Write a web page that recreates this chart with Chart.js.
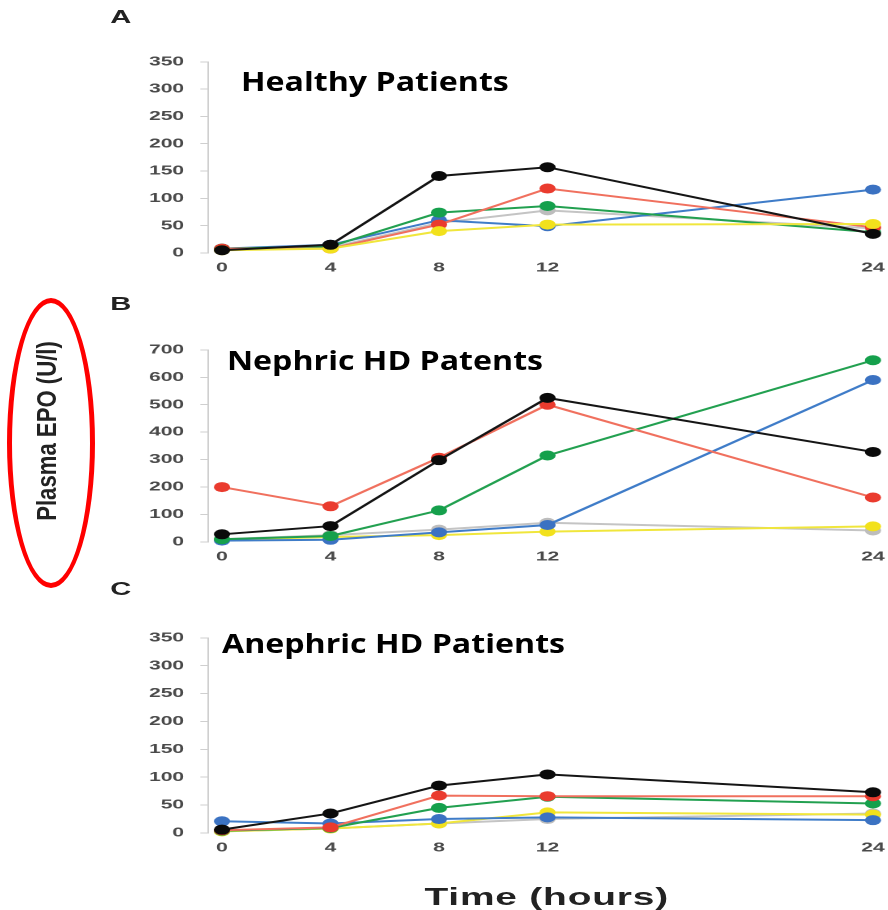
<!DOCTYPE html>
<html>
<head>
<meta charset="utf-8">
<script src="https://cdn.jsdelivr.net/npm/chart.js@4.4.1/dist/chart.umd.min.js"></script>
<style>
  html, body { margin: 0; padding: 0; background: #fff; }
  body { width: 888px; height: 910px; position: relative; overflow: hidden; }
  /* the original figure was stretched sideways, so the whole plot block is too */
  #stretch { position: absolute; left: 0; top: 0; width: 549px; height: 910px; transform: scaleX(1.62); transform-origin: 0 0; }
  #stretch canvas { position: absolute; left: 0; }
  .letter { position: absolute; left: 68px; font: bold 18px "Liberation Sans", Arial, sans-serif; line-height: 1; color: #222; }
  .title { position: absolute; font: bold 27px "Open Sans", sans-serif; line-height: 1; color: #000; white-space: nowrap; transform: scaleX(1.19); transform-origin: 0 0; }
  #xlabel { position: absolute; left: 262px; top: 885px; font: bold 24px "Liberation Sans", Arial, sans-serif; letter-spacing: 0.5px; line-height: 1; color: #222; white-space: nowrap; }
  #ylabel { position: absolute; left: 47px; top: 431px; transform: translate(-50%, -50%) rotate(-90deg) scaleX(0.82); font: bold 27px "Liberation Sans", Arial, sans-serif; line-height: 1; color: #222; white-space: nowrap; }
  #ring { position: absolute; left: 7px; top: 298px; width: 88px; height: 290px; box-sizing: border-box; border: 5px solid #f00; border-radius: 50%; }
</style>
</head>
<body>
<div id="stretch">
  <div class="letter" style="top:8px">A</div>
  <div class="letter" style="top:295px">B</div>
  <div class="letter" style="top:580px">C</div>
  <canvas id="panelA"></canvas>
  <canvas id="panelB"></canvas>
  <canvas id="panelC"></canvas>
  <div id="xlabel">Time (hours)</div>
</div>
<div class="title" style="left:241px; top:67px">Healthy Patients</div>
<div class="title" style="left:227px; top:346px">Nephric HD Patents</div>
<div class="title" style="left:222px; top:629px">Anephric HD Patients</div>
<div id="ring"></div>
<div id="ylabel">Plasma EPO (U/l)</div>

<script>
const hours = [0, 4, 8, 12, 24];

// A - healthy
const healthyBlack  = [5, 15, 141, 157, 35];
const healthyRed    = [8, 8, 52, 118, 47];
const healthyGreen  = [8, 12, 74, 86, 38];
const healthyBlue   = [8, 15, 60, 49, 116];
const healthyYellow = [5, 8, 40, 52, 53];
const healthyGray   = [5, 10, 55, 78, 45];

// B - nephric HD
const nephricBlack  = [28, 58, 298, 525, 328];
const nephricRed    = [200, 130, 307, 500, 162];
const nephricGreen  = [10, 22, 115, 315, 662];
const nephricBlue   = [5, 8, 35, 62, 590];
const nephricYellow = [8, 18, 25, 38, 57];
const nephricGray   = [10, 25, 45, 70, 42];

// C - anephric HD
const anephricBlack  = [6, 35, 85, 105, 73];
const anephricRed    = [5, 10, 67, 66, 66];
const anephricGreen  = [4, 9, 45, 65, 53];
const anephricBlue   = [21, 17, 25, 28, 23];
const anephricYellow = [3, 8, 17, 37, 33];
const anephricGray   = [3, 8, 17, 25, 35];

const STRETCH = 1.62;
const X0 = 222;          // page x of hour 0
const PX_PER_HOUR = 27.125;
const CANVAS_W = 556;    // a bit wider than the page, the overflow is cut off

const colors = {
  black:  { line: '#151515', dot: '#0a0a0a' },
  red:    { line: '#f0705e', dot: '#ea3b2e' },
  green:  { line: '#22a050', dot: '#15a04c' },
  blue:   { line: '#3f7cc8', dot: '#3b72c2' },
  yellow: { line: '#f0e63c', dot: '#f2e11c' },
  gray:   { line: '#c4c4c4', dot: '#bdbdbd' }
};

const tickFont = { family: '"Liberation Sans", Arial, sans-serif', size: 13, weight: 'bold' };

function makePanel(id, top, bottom, yMax, yStep, series) {
  const canvas = document.getElementById(id);
  const padTop = 10, xAxisH = 30;
  const axisLeft = (X0 - 0.5 * PX_PER_HOUR) / STRETCH;
  const axisRight = (X0 + 24.5 * PX_PER_HOUR) / STRETCH;
  canvas.width = CANVAS_W;
  canvas.height = padTop + (bottom - top) + xAxisH;
  canvas.style.top = (top - padTop) + 'px';

  // first dataset is drawn on top
  const datasets = Object.keys(series).map(key => ({
    data: hours.map((h, i) => ({ x: h, y: series[key][i] })),
    borderColor: colors[key].line,
    backgroundColor: colors[key].dot,
    pointBackgroundColor: colors[key].dot,
    pointBorderWidth: 0,
    pointRadius: 5,
    borderWidth: 2,
    tension: 0,
    clip: false
  }));

  return new Chart(canvas, {
    type: 'line',
    data: { datasets: datasets },
    options: {
      responsive: false,
      animation: false,
      devicePixelRatio: 2,
      layout: { padding: { top: padTop, bottom: 0, left: 0, right: CANVAS_W - axisRight } },
      plugins: { legend: { display: false }, tooltip: { enabled: false } },
      scales: {
        x: {
          type: 'linear',
          min: -0.5,
          max: 24.5,
          afterBuildTicks: sc => { sc.ticks = hours.map(v => ({ value: v })); },
          afterFit: sc => { sc.height = xAxisH; },
          grid: { display: false, drawTicks: false },
          border: { display: false },
          ticks: { padding: 7, font: tickFont, color: '#4a4a4a', autoSkip: false, maxRotation: 0 }
        },
        y: {
          min: 0,
          max: yMax,
          afterFit: sc => { sc.width = axisLeft; },
          grid: { drawOnChartArea: false, tickLength: 5, color: '#cfcfcf' },
          border: { color: '#cfcfcf' },
          ticks: { stepSize: yStep, padding: 10, font: tickFont, color: '#4a4a4a' }
        }
      }
    }
  });
}

makePanel('panelA', 54, 253, 350, 50, {
  black: healthyBlack, yellow: healthyYellow, red: healthyRed, green: healthyGreen,
  blue: healthyBlue, gray: healthyGray
});
makePanel('panelB', 342, 542, 700, 100, {
  black: nephricBlack, red: nephricRed, green: nephricGreen, blue: nephricBlue,
  yellow: nephricYellow, gray: nephricGray
});
makePanel('panelC', 630, 833, 350, 50, {
  black: anephricBlack, red: anephricRed, green: anephricGreen, blue: anephricBlue,
  yellow: anephricYellow, gray: anephricGray
});
</script>
</body>
</html>
